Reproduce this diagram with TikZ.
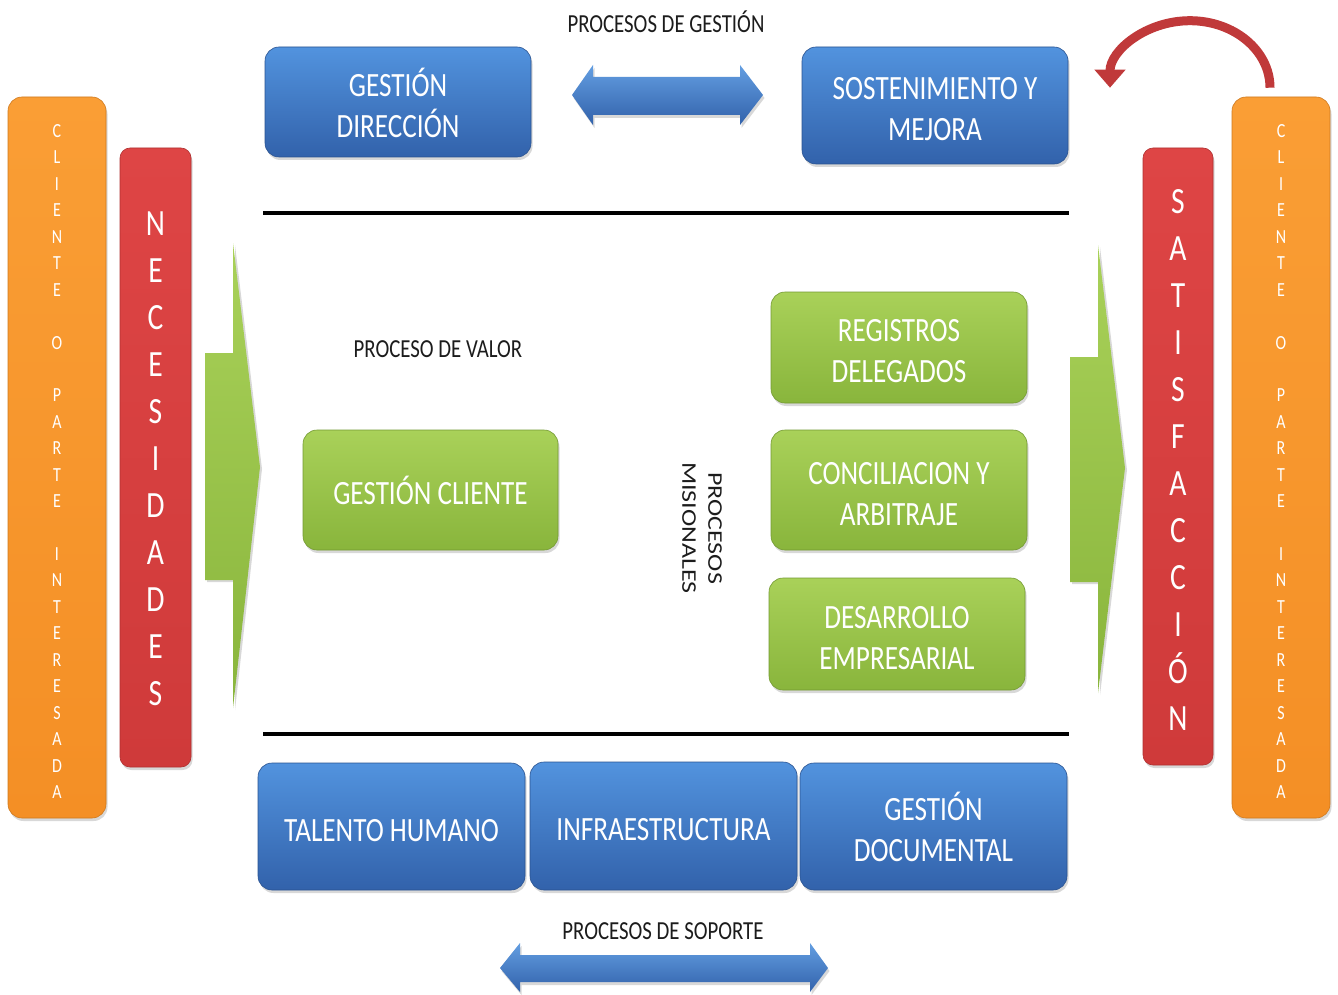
\documentclass[tikz,border=0pt]{standalone}
\usepackage{fontspec}
\setmainfont{Carlito}
\newfontfamily\nfont{Carlito}[FakeStretch=0.8]
\usetikzlibrary{shadows,arrows.meta}
\definecolor{bluetop}{HTML}{5293DE}
\definecolor{bluebot}{HTML}{3262AB}
\definecolor{greentop}{HTML}{A9D159}
\definecolor{greenbot}{HTML}{89B53C}
\definecolor{orangetop}{HTML}{FA9E35}
\definecolor{orangebot}{HTML}{F48F25}
\definecolor{redtop}{HTML}{DE4545}
\definecolor{redbot}{HTML}{CF3A3A}
\definecolor{arrowred}{HTML}{C0393A}
\definecolor{labelc}{HTML}{1C1C1C}
\newcommand\boxtop{\rule{0pt}{30pt}}
\begin{document}
\begin{tikzpicture}[x=1pt,y=-1pt,
  panel/.style={rounded corners=14pt, inner sep=0pt,
    drop shadow={shadow xshift=1.5pt,shadow yshift=-3pt,opacity=0.3}},
  bluebox/.style={panel, top color=bluetop, bottom color=bluebot,
    draw=bluebot!85!black, line width=0.6pt, text=white, align=center,
    font={\nfont\fontsize{34}{41}\selectfont}},
  greenbox/.style={panel, top color=greentop, bottom color=greenbot,
    draw=greenbot!85!black, line width=0.6pt, text=white, align=center,
    font={\nfont\fontsize{34}{41}\selectfont}},
  orangebar/.style={panel, top color=orangetop, bottom color=orangebot,
    draw=orangebot!85!black, line width=0.6pt},
  redbar/.style={panel, rounded corners=10pt, top color=redtop, bottom color=redbot,
    draw=redbot!85!black, line width=0.6pt},
  smallstack/.style={text=white, align=center, inner sep=0pt,
    font={\nfont\fontsize{20}{26.44}\selectfont}},
  bigstack/.style={text=white, align=center, inner sep=0pt,
    font={\nfont\fontsize{37}{47}\selectfont}},
  lbl/.style={text=labelc, inner sep=0pt, font={\nfont\fontsize{26}{30}\selectfont}},
  greenshape/.style={top color=greentop, bottom color=greenbot,
    drop shadow={shadow xshift=2pt,shadow yshift=-2pt,opacity=0.3}},
  blueshape/.style={top color=bluetop!90!white, bottom color=bluebot,
    drop shadow={shadow xshift=1.5pt,shadow yshift=-3pt,opacity=0.3}},
  sepline/.style={line width=4pt, black}
]
\path[use as bounding box, fill=white] (0,0) rectangle (1338,995);

% side bars
\node[orangebar, minimum width=98pt, minimum height=721pt] (cl) at (57,457.5) {};
\node[orangebar, minimum width=98pt, minimum height=721pt] (cr) at (1281,457.5) {};
\node[redbar, minimum width=71pt, minimum height=619pt] (nec) at (155.5,457.5) {};
\node[redbar, minimum width=70pt, minimum height=617pt] (sat) at (1178,456.5) {};

\node[smallstack] (clt) at (57,461.5) {C\\L\\I\\E\\N\\T\\E\\\mbox{}\\O\\\mbox{}\\P\\A\\R\\T\\E\\\mbox{}\\I\\N\\T\\E\\R\\E\\S\\A\\D\\A};
\node[smallstack] (crt) at (1281,461.5) {C\\L\\I\\E\\N\\T\\E\\\mbox{}\\O\\\mbox{}\\P\\A\\R\\T\\E\\\mbox{}\\I\\N\\T\\E\\R\\E\\S\\A\\D\\A};
\node[bigstack] (nect) at (155.5,459) {N\\E\\C\\E\\S\\I\\D\\A\\D\\E\\S};
\node[bigstack] (satt) at (1178,459.5) {S\\A\\T\\I\\S\\F\\A\\C\\C\\I\\Ó\\N};

% top management processes
\node[lbl] (pg) at (666,22) {PROCESOS DE GESTIÓN};
\node[bluebox, minimum width=266pt, minimum height=110pt] (gd) at (398,102) {\boxtop GESTIÓN\\DIRECCIÓN};
\node[bluebox, minimum width=266pt, minimum height=117pt] (sm) at (935,105.5) {\boxtop SOSTENIMIENTO Y\\MEJORA};
\path[blueshape] (572,95) -- (593,65) -- (593,77) -- (740,77) -- (740,65) -- (763,95)
  -- (740,125) -- (740,115) -- (593,115) -- (593,125) -- cycle;

% separators
\draw[sepline] (263,213) -- (1069,213);
\draw[sepline] (263,734) -- (1069,734);

% green arrows
\path[greenshape] (205,353) -- (233,353) -- (233,243) -- (260,467) -- (233,708)
  -- (233,580) -- (205,580) -- cycle;
\path[greenshape] (1070,357) -- (1098,357) -- (1098,245) -- (1125,468) -- (1098,693)
  -- (1098,582) -- (1070,582) -- cycle;

% mission processes
\node[lbl] (pv) at (438,349) {PROCESO DE VALOR};
\node[greenbox, minimum width=255pt, minimum height=120pt] (gc) at (430.5,490) {\boxtop GESTIÓN CLIENTE};
\node[greenbox, minimum width=256pt, minimum height=111pt] (rd) at (899,347.5) {\boxtop REGISTROS\\DELEGADOS};
\node[greenbox, minimum width=256pt, minimum height=120pt] (ca) at (899,490) {\boxtop CONCILIACION Y\\ARBITRAJE};
\node[greenbox, minimum width=256pt, minimum height=112pt] (de) at (897,634) {\boxtop DESARROLLO\\EMPRESARIAL};
\begin{scope}[shift={(702,528)}]
\node[text=labelc, inner sep=0pt, align=center, xscale=0.8, rotate=-90,
  font={\fontsize{26}{32.5}\selectfont}] (pm) at (0,0) {PROCESOS\\MISIONALES};
\end{scope}

% support processes
\node[bluebox, minimum width=267pt, minimum height=127pt] (th) at (391.5,826.5) {\boxtop TALENTO HUMANO};
\node[bluebox, minimum width=267pt, minimum height=128pt] (inf) at (663.5,826) {\boxtop INFRAESTRUCTURA};
\node[bluebox, minimum width=267pt, minimum height=127pt] (gdoc) at (933.5,826.5) {\boxtop GESTIÓN\\DOCUMENTAL};
\node[lbl] (ps) at (663,931) {PROCESOS DE SOPORTE};
\path[blueshape] (500,968) -- (520,943) -- (520,955) -- (810,955) -- (810,943) -- (828,968)
  -- (810,992) -- (810,982) -- (520,982) -- (520,992) -- cycle;

% feedback arrow
\draw[arrowred, line width=9pt, -{Triangle[width=30pt,length=18pt]}]
  ([xshift=-11pt,yshift=9pt]cr.north) arc[start angle=0, end angle=180, x radius=80pt, y radius=67pt];
\end{tikzpicture}
\end{document}
